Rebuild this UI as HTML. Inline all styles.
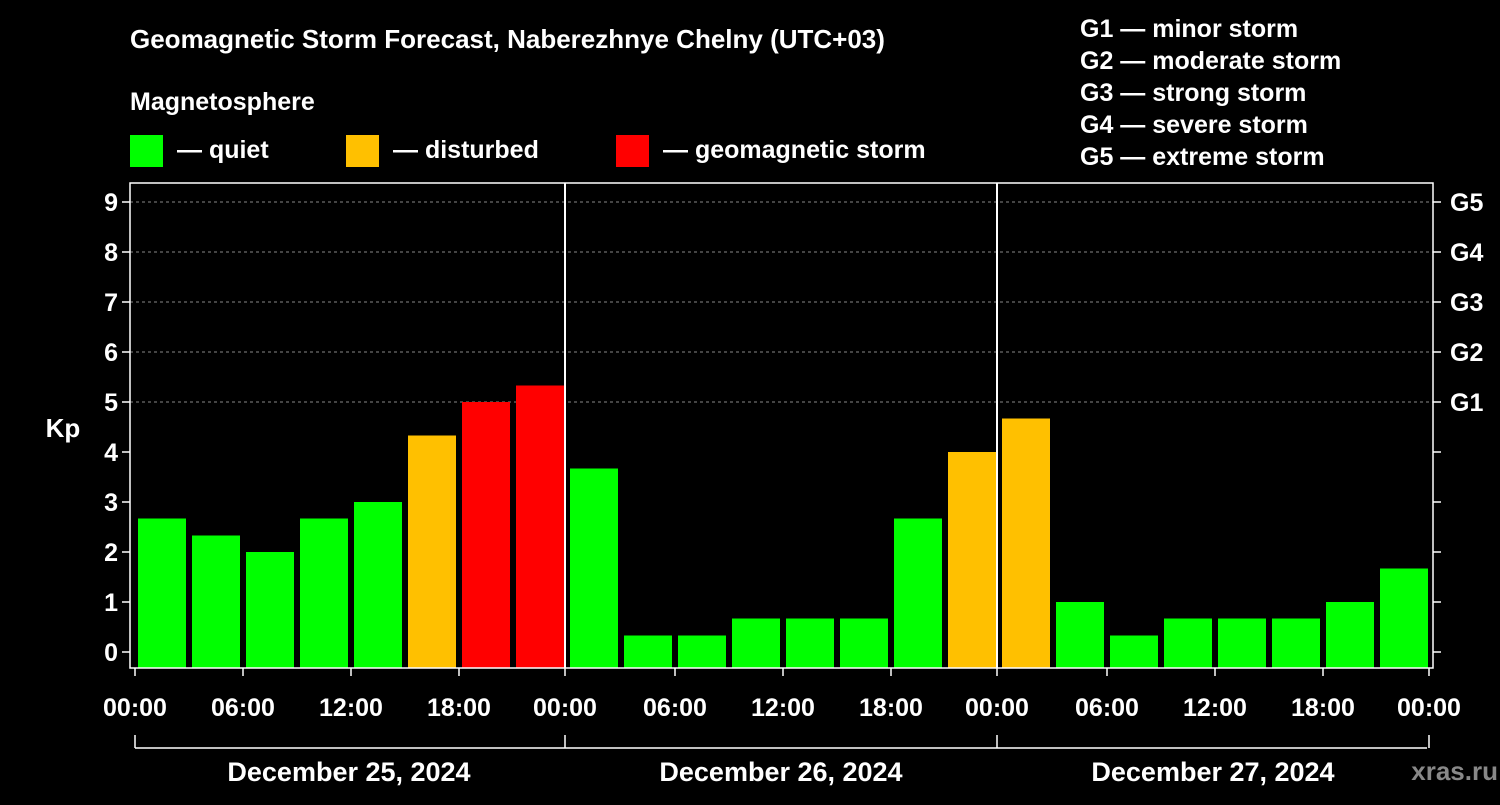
<!DOCTYPE html>
<html><head><meta charset="utf-8"><style>
body{margin:0;background:#000;}
svg text{font-family:"Liberation Sans",Arial,sans-serif;font-weight:bold;fill:#fff;}
</style></head><body>
<svg id="c" width="1500" height="800" xmlns="http://www.w3.org/2000/svg">
<rect width="1500" height="800" fill="#000"/>
<text x="130" y="48" font-size="26">Geomagnetic Storm Forecast, Naberezhnye Chelny (UTC+03)</text>
<text x="130" y="110" font-size="25">Magnetosphere</text>
<g>
<rect x="130" y="135" width="33" height="32" fill="#00ff00"/>
<text x="177" y="158" font-size="25">— quiet</text>
<rect x="346" y="135" width="33" height="32" fill="#ffc000"/>
<text x="393" y="158" font-size="25">— disturbed</text>
<rect x="616" y="135" width="33" height="32" fill="#ff0000"/>
<text x="663" y="158" font-size="25">— geomagnetic storm</text>
</g>
<g font-size="25">
<text x="1080" y="37">G1 — minor storm</text>
<text x="1080" y="69">G2 — moderate storm</text>
<text x="1080" y="101">G3 — strong storm</text>
<text x="1080" y="133">G4 — severe storm</text>
<text x="1080" y="165">G5 — extreme storm</text>
</g>
<g id="grid"></g><g id="bars"></g><g id="axes"></g>
<text x="1498" y="780" font-size="26" text-anchor="end" style="fill:#888">xras.ru</text>
</svg>
<script>
const kpValues=[2.67,2.33,2.0,2.67,3.0,4.33,5.0,5.33,3.67,0.33,0.33,0.67,0.67,0.67,2.67,4.0,4.67,1.0,0.33,0.67,0.67,0.67,1.0,1.67];
const kpTicks=[0,1,2,3,4,5,6,7,8,9];
const gLabels=["G1","G2","G3","G4","G5"];
const timeLabels=["00:00","06:00","12:00","18:00"];
const dateLabels=["December 25, 2024","December 26, 2024","December 27, 2024"];
const NS="http://www.w3.org/2000/svg";
const X0=135,DAY=432,L=130,R=1433,T=183,B=668;
const y=v=>652-v*50;
const x=i=>X0+i*DAY/8;
function mk(p,t,a){const e=document.createElementNS(NS,t);for(const k in a)e.setAttribute(k,a[k]);document.getElementById(p)?document.getElementById(p).appendChild(e):p.appendChild(e);return e;}
kpTicks.forEach(v=>{
 if(v>=5){const g=mk("grid","line",{x1:L,x2:R,y1:y(v),y2:y(v),stroke:"#888","stroke-dasharray":"3,3"});}
 const t=mk("axes","line",{x1:L-8,x2:L,y1:y(v),y2:y(v),stroke:"#fff","stroke-width":1.5});
 
 const r=mk("axes","line",{x1:R,x2:R+8,y1:y(v),y2:y(v),stroke:"#fff","stroke-width":1.5});
 
 const l=mk("axes","text",{x:L-12,y:y(v)+9,"font-size":25,"text-anchor":"end"});l.textContent=v;
 
});
gLabels.forEach((g,i)=>{const l=mk("axes","text",{x:1450,y:y(5+i)+9,"font-size":25});l.textContent=g;
 });
kpValues.forEach((v,i)=>{
 const c=v>=5?"#ff0000":v>=4?"#ffc000":"#00ff00";
 const b=mk("bars","rect",{x:x(i)+3,y:y(v),width:48,height:B-y(v),fill:c});
 
});
const f=mk("axes","rect",{x:L,y:T,width:R-L,height:B-T,fill:"none",stroke:"#fff","stroke-width":1.5});

for(let d=1;d<3;d++){const s=mk("axes","line",{x1:X0+d*DAY-2,x2:X0+d*DAY-2,y1:T,y2:B,stroke:"#fff","stroke-width":2});
 }
for(let i=0;i<=12;i++){const xx=X0+i*DAY/4-(i%4==0&&i>0?2:0);
 const t=mk("axes","line",{x1:xx,x2:xx,y1:B,y2:B+8,stroke:"#fff","stroke-width":1.5});
 
 const l=mk("axes","text",{x:xx,y:716,"font-size":25,"text-anchor":"middle"});l.textContent=timeLabels[i%4];
 }
const br=mk("axes","line",{x1:X0,x2:X0+3*DAY-4,y1:748,y2:748,stroke:"#fff","stroke-width":1.5});

for(let d=0;d<=3;d++){const xx=X0+d*DAY-(d>0?2:0);const t=mk("axes","line",{x1:xx,x2:xx,y1:735,y2:748,stroke:"#fff","stroke-width":1.5});
 }
dateLabels.forEach((s,d)=>{const l=mk("axes","text",{x:X0+d*DAY+DAY/2-2,y:781,"font-size":27,"text-anchor":"middle"});l.textContent=s;
 });
const k=mk("axes","text",{x:63,y:437,"font-size":26,"text-anchor":"middle"});k.textContent="Kp";

</script>
</body></html>
